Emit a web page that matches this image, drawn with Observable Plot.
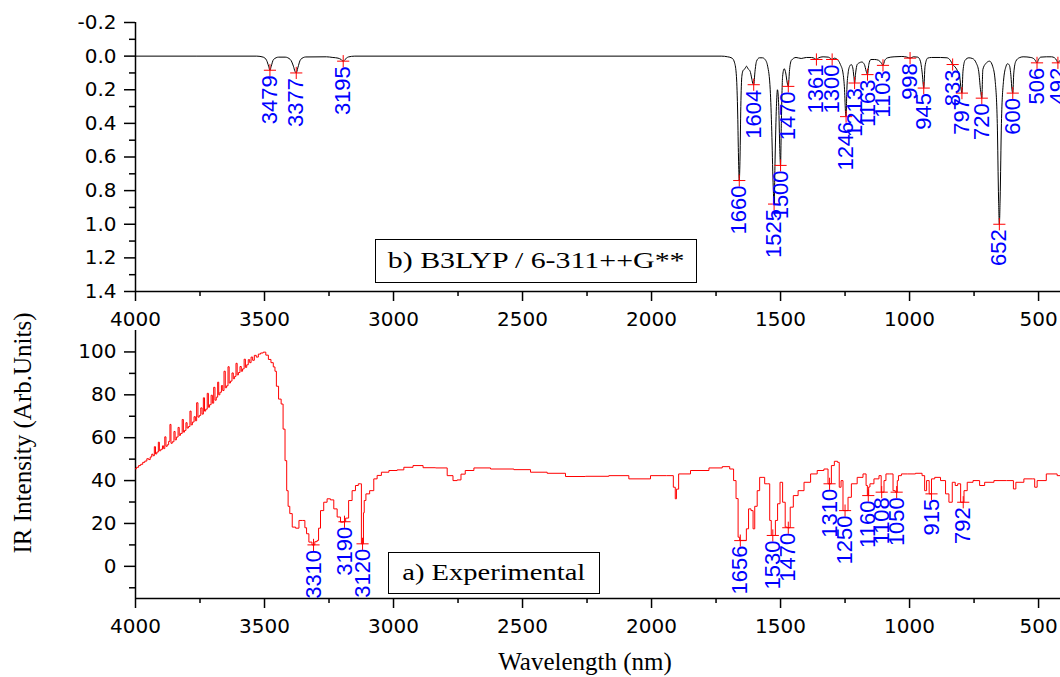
<!DOCTYPE html>
<html>
<head>
<meta charset="utf-8">
<script src="https://cdn.jsdelivr.net/npm/d3@7"></script>
<script src="https://cdn.jsdelivr.net/npm/@observablehq/plot@0.6"></script>
<style>
  html, body { margin: 0; padding: 0; background: #fff; }
  #wrap { position: relative; width: 1060px; height: 677px; overflow: hidden; background: #fff; }
  #wrap svg { display: block; }
  .serif { font-family: "Liberation Serif", "Times New Roman", serif; color: #000; white-space: nowrap; }
  .box { position: absolute; box-sizing: border-box; border: 1.5px solid #000; background: #fff;
         display: flex; align-items: center; justify-content: center; }
</style>
</head>
<body>
<div id="wrap"></div>
<script>
// ---------- tick values ----------
const xMajor = [4000, 3500, 3000, 2500, 2000, 1500, 1000, 500];
const xMinor = [3750, 3250, 2750, 2250, 1750, 1250, 750];
const calcYMajor = [-0.2, 0, 0.2, 0.4, 0.6, 0.8, 1.0, 1.2, 1.4];
const calcYMinor = [-0.1, 0.1, 0.3, 0.5, 0.7, 0.9, 1.1, 1.3];
const expYMajor = [0, 20, 40, 60, 80, 100];
const expYMinor = [-10, 10, 30, 50, 70, 90];

// ---------- b) B3LYP calculated spectrum, [wavenumber, intensity] ----------
const calcPoints = [[4000,0],[3530,0],[3505,0.006],[3492,0.025],[3484,0.06],[3479,0.084],[3474,0.06],[3465,0.02],[3445,0.006],[3420,0.006],[3400,0.02],[3388,0.06],[3382,0.09],[3377,0.10],[3371,0.07],[3360,0.02],[3340,0.005],[3260,0.004],[3235,0.008],[3215,0.012],[3203,0.02],[3195,0.03],[3188,0.02],[3175,0.005],[3150,0],
  [1730,0],[1705,0.004],[1688,0.012],[1678,0.04],[1671,0.12],[1666,0.35],[1663,0.6],[1660,0.74],[1657,0.6],[1654,0.3],[1650,0.12],[1645,0.085],[1638,0.075],[1632,0.06],[1626,0.075],[1618,0.09],[1612,0.13],[1608,0.16],[1604,0.17],[1599,0.09],[1593,0.03],[1582,0.01],[1570,0.01],[1560,0.02],[1550,0.06],[1540,0.2],[1534,0.45],[1529,0.75],[1525,0.88],[1521,0.6],[1516,0.3],[1512,0.2],[1507,0.3],[1503,0.55],[1500,0.65],[1497,0.4],[1492,0.12],[1486,0.075],[1480,0.1],[1474,0.16],[1470,0.18],[1465,0.08],[1458,0.025],[1440,0.008],[1420,0.014],[1400,0.008],[1380,0.008],[1368,0.014],[1361,0.02],[1352,0.01],[1335,0.004],[1315,0.006],[1306,0.014],[1300,0.02],[1292,0.012],[1280,0.02],[1268,0.05],[1258,0.1],[1252,0.2],[1248,0.34],[1246,0.36],[1243,0.2],[1238,0.1],[1232,0.06],[1226,0.05],[1220,0.07],[1216,0.12],[1213,0.16],[1209,0.1],[1203,0.05],[1195,0.04],[1185,0.035],[1175,0.05],[1168,0.09],[1163,0.11],[1158,0.05],[1150,0.02],[1135,0.02],[1120,0.025],[1110,0.04],[1103,0.055],[1096,0.025],[1085,0.01],[1060,0.004],[1030,0.002],[1010,0.006],[998,0.012],[985,0.004],[968,0.006],[958,0.03],[951,0.1],[945,0.19],[940,0.06],[930,0.012],[915,0.008],[880,0.008],[855,0.01],[842,0.025],[833,0.05],[826,0.06],[815,0.085],[806,0.12],[800,0.2],[797,0.22],[793,0.09],[785,0.025],[770,0.01],[755,0.015],[742,0.04],[732,0.09],[725,0.2],[720,0.25],[716,0.08],[705,0.045],[690,0.03],[678,0.06],[668,0.15],[660,0.4],[655,0.85],[652,1.0],[649,0.85],[644,0.4],[636,0.15],[626,0.06],[620,0.045],[613,0.055],[607,0.12],[603,0.2],[600,0.22],[596,0.1],[588,0.03],[575,0.01],[560,0.004],[530,0.008],[515,0.02],[506,0.04],[500,0.02],[492,0.006],[470,0.004],[450,0.004],[438,0.01],[430,0.025],[425,0.04],[420,0.03],[415,0.025]];
const calcPeakWave = [3479,3377,3195,1660,1604,1525,1500,1470,1361,1300,1246,1213,1163,1103,998,945,833,797,720,652,600,506,425];
const calcPeakInt  = [0.084,0.10,0.03,0.74,0.17,0.88,0.65,0.18,0.02,0.02,0.36,0.16,0.11,0.055,0.012,0.19,0.05,0.22,0.25,1.0,0.22,0.04,0.04];
const calcPeakLabel = ["3479","3377","3195","1660","1604","1525","1500","1470","1361","1300","1246","1213","1163","1103","998","945","833","797","720","652","600","506","492"];

// ---------- a) Experimental spectrum, [wavenumber, intensity] ----------
const expPoints = [[4000,45.5],[3992,46.2],[3984,47.0],[3976,47.6],[3968,48.5],[3960,49.1],[3952,50.2],[3946,49.8],[3940,51.0],[3934,52.3],[3930,51.6],[3924,55.8],[3921,52.4],[3914,53.3],[3909,57.9],[3906,53.9],[3898,54.6],[3893,56.2],[3889,54.9],[3884,60.4],[3880,56.0],[3874,56.7],[3869,58.3],[3864,66.2],[3861,57.4],[3854,58.1],[3848,62.9],[3845,59.0],[3838,60.3],[3832,64.8],[3829,61.1],[3822,62.0],[3816,68.5],[3813,62.6],[3807,63.4],[3802,67.0],[3798,64.5],[3792,65.2],[3786,72.4],[3783,66.0],[3776,67.3],[3770,69.8],[3766,67.9],[3760,76.3],[3756,69.6],[3750,70.4],[3744,73.9],[3740,71.0],[3734,78.6],[3731,72.4],[3725,73.3],[3719,80.7],[3716,74.2],[3710,75.4],[3704,79.8],[3700,76.1],[3694,83.5],[3690,77.5],[3684,78.9],[3679,85.9],[3676,80.0],[3670,81.2],[3664,84.3],[3660,82.0],[3654,91.0],[3650,83.3],[3644,84.2],[3639,93.1],[3635,85.5],[3629,86.4],[3623,90.2],[3619,87.5],[3613,88.6],[3608,94.7],[3604,89.3],[3598,90.4],[3592,93.2],[3588,91.0],[3582,92.1],[3576,96.6],[3572,92.8],[3566,94.0],[3560,96.4],[3555,95.0],[3549,97.6],[3543,96.1],[3536,98.4],[3528,97.6],[3520,99.0],[3510,99.5],[3500,99.9],
  [3490,98.5],[3480,96.5],[3470,95],[3462,93],[3457,91],[3451,84],[3440,78],[3431,75.7],[3425,64],[3416,49.3],[3412,35.3],[3405,28],[3399,24.6],[3386,18.3],[3373,17.8],[3360,21.4],[3347,21.4],[3340,18],[3334,15.2],[3322,11.3],[3310,10],[3300,11.5],[3292,12.1],[3289,17.8],[3277,26],[3264,29.9],[3251,31.5],[3238,31],[3225,26.8],[3212,23],[3199,20.6],[3190,20.8],[3181,22.5],[3167,30.7],[3154,35.3],[3141,37.7],[3132,38.5],[3126,38.5],[3123,10.5],[3118,10.5],[3115,25],[3112,30.7],[3102,33.8],[3083,35.3],[3070,40.8],[3057,42.4],[3037,43.9],[2999,44.7],[2973,45],[2947,46.2],[2902,47],[2869,46],[2805,45.9],[2779,42.3],[2760,40],[2747,40.3],[2730,43],[2714,44.7],[2663,45.9],[2585,45.4],[2482,45.1],[2456,43.9],[2353,43.4],[2314,41.9],[2198,42],[2133,42.3],[2043,40.8],[1965,42.3],[1920,42.3],[1911,36.9],[1905,31.5],[1902,36],[1888,43.1],[1810,44.7],[1745,45.9],[1707,46.5],[1687,45.4],[1677,40],[1668,31.6],[1661,13.6],[1656,12.1],[1636,12.1],[1629,17.5],[1619,26.8],[1610,26],[1603,17.5],[1597,28],[1584,35.3],[1578,41.5],[1565,41.5],[1558,38.5],[1545,38.5],[1539,21.4],[1533,14.4],[1524,14.4],[1516,21.4],[1507,29.2],[1497,39.2],[1487,29.9],[1477,18.3],[1470,18],[1466,18],[1459,27.6],[1442,33],[1422,35.3],[1396,39.2],[1371,43.1],[1345,44.7],[1319,45.4],[1313,38.5],[1306,38.5],[1300,47],[1283,49],[1275,48.5],[1270,36.9],[1261,40],[1255,26],[1242,26],[1235,32.2],[1216,38.5],[1190,41.5],[1171,43.1],[1166,37.7],[1161,33],[1156,37],[1151,38.5],[1125,40.8],[1112,42.3],[1108,34.6],[1102,34.6],[1096,40],[1087,43.1],[1067,43.1],[1061,35.3],[1050,34.6],[1045,40],[1041,42.3],[1022,43.1],[996,43.1],[958,43.4],[945,42.3],[938,35.3],[930,40],[918,33.8],[912,40.8],[893,41.5],[867,40],[854,33.8],[841,29.9],[828,39.2],[818,37.7],[809,38.5],[795,29.9],[783,35.3],[770,39.2],[738,40],[719,37.7],[699,39.2],[647,40],[602,40],[593,36.1],[583,39.2],[531,40.8],[518,40.8],[512,36.9],[499,40],[441,43.1],[415,42.3]];
const expPeakWave = [3310,3190,3120,1656,1530,1470,1310,1250,1160,1108,1050,915,792];
const expPeakInt  = [10,20.8,10.5,12,14.4,18,38.5,26,33,34.6,34.6,33.8,29.9];
const expPeakLabel = ["3310","3190","3120","1656","1530","1470","1310","1250","1160","1108","1050","915","792"];

// ---------- build ----------
const W = 1060;
const calcCurve = calcPoints.map(([w, v]) => ({w, v}));
const calcPeaks = calcPeakWave.map((w, i) => ({w, v: calcPeakInt[i], label: calcPeakLabel[i]}));
const expCurve = expPoints.map(([w, v]) => ({w, v}));
const expPeaks = expPeakWave.map((w, i) => ({w, v: expPeakInt[i], label: expPeakLabel[i]}));

const axisFont = {fontFamily: "'DejaVu Sans', 'Liberation Sans', sans-serif", fontSize: "20px", color: "#000", background: "transparent", overflow: "hidden"};
const peakText = {x: "w", y: "v", text: "label", rotate: -90, textAnchor: "end", lineAnchor: "middle",
  dy: 5, fill: "#0000ff", fontSize: 22, fontFamily: "'Liberation Sans', Arial, sans-serif"};
const peakDot = {x: "w", y: "v", symbol: "plus", r: 4, stroke: "#ff0000", strokeWidth: 1};

const topPlot = Plot.plot({
  width: W, height: 330,
  marginLeft: 135, marginRight: 0, marginTop: 22, marginBottom: 39,
  x: {domain: [4000, 415]},
  y: {domain: [-0.2, 1.4], reverse: true},
  style: axisFont,
  marks: [
    Plot.axisX({ticks: xMajor, tickSize: 10, tickPadding: 10, strokeWidth: 1.5, tickFormat: d => String(d), label: null}),
    Plot.axisX({ticks: xMinor, tickSize: 5, strokeWidth: 1.5, fill: "none", label: null}),
    Plot.axisY({ticks: calcYMajor, tickSize: 11, tickPadding: 8, strokeWidth: 1.5, tickFormat: d => d.toFixed(1), label: null}),
    Plot.axisY({ticks: calcYMinor, tickSize: 6, strokeWidth: 1.5, fill: "none", label: null}),
    Plot.ruleX([4000], {stroke: "#000", strokeWidth: 1.5}),
    Plot.ruleY([1.4], {stroke: "#000", strokeWidth: 1.5}),
    Plot.line(calcCurve, {x: "w", y: "v", stroke: "#000", strokeWidth: 1, curve: "monotone-x"}),
    Plot.dot(calcPeaks, peakDot),
    Plot.text(calcPeaks, peakText)
  ]
});

const bottomPlot = Plot.plot({
  width: W, height: 347,
  marginLeft: 135, marginRight: 0, marginTop: 0, marginBottom: 79,
  x: {domain: [4000, 415]},
  y: {domain: [-15, 110]},
  style: axisFont,
  marks: [
    Plot.axisX({ticks: xMajor, tickSize: 10, tickPadding: 10, strokeWidth: 1.5, tickFormat: d => String(d), label: null}),
    Plot.axisX({ticks: xMinor, tickSize: 5, strokeWidth: 1.5, fill: "none", label: null}),
    Plot.axisY({ticks: expYMajor, tickSize: 11, tickPadding: 8, strokeWidth: 1.5, tickFormat: d => String(d), label: null}),
    Plot.axisY({ticks: expYMinor, tickSize: 6, strokeWidth: 1.5, fill: "none", label: null}),
    Plot.ruleX([4000], {stroke: "#000", strokeWidth: 1.5}),
    Plot.ruleY([-15], {stroke: "#000", strokeWidth: 1.5}),
    Plot.line(expCurve, {x: "w", y: "v", stroke: "#ff0000", strokeWidth: 1, curve: "step"}),
    Plot.dot(expPeaks, peakDot),
    Plot.text(expPeaks, peakText)
  ]
});

const wrap = document.getElementById("wrap");
wrap.appendChild(topPlot);
wrap.appendChild(bottomPlot);

function addDiv(html, css, cls) {
  const d = document.createElement("div");
  d.className = cls;
  d.style.cssText = css;
  d.innerHTML = html;
  wrap.appendChild(d);
  return d;
}
addDiv('<span class="serif" style="font-size:23px;display:inline-block;transform:scaleX(1.3)">b) B3LYP / 6-311++G**</span>',
  "left:375px;top:239px;width:322px;height:44px;", "box");
addDiv('<span class="serif" style="font-size:23px;display:inline-block;transform:scaleX(1.24)">a) Experimental</span>',
  "left:388px;top:552px;width:212px;height:42px;", "box");
addDiv("IR Intensity (Arb.Units)",
  "position:absolute;left:22px;top:433px;font-size:25px;line-height:25px;transform:translate(-50%,-50%) rotate(-90deg);", "serif");
addDiv("Wavelength (nm)",
  "position:absolute;left:585px;top:649px;font-size:25px;line-height:25px;transform:translateX(-50%);", "serif");
</script>
</body>
</html>
